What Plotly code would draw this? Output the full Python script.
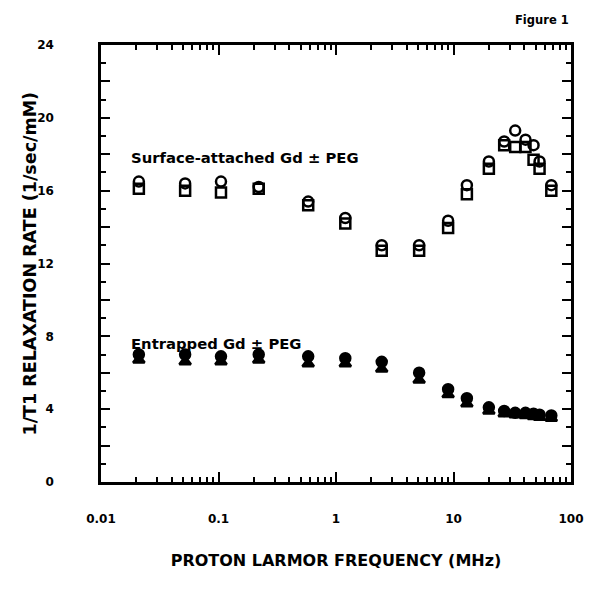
import plotly.graph_objects as go

# Proton Larmor frequency (MHz)
freq = [0.021, 0.052, 0.105, 0.22, 0.58, 1.2, 2.45, 5.1, 9.0, 13.0, 20.0,
        27.0, 33.5, 41.0, 48.0, 54.0, 68.0]

# Surface-attached Gd +/- PEG (open circles / open squares)
surf_circle = [16.5, 16.4, 16.5, 16.2, 15.4, 14.5, 13.0, 13.0, 14.35, 16.3,
               17.6, 18.7, 19.3, 18.8, 18.5, 17.6, 16.3]
surf_square = [16.1, 16.0, 15.9, 16.1, 15.2, 14.2, 12.7, 12.7, 13.95, 15.8,
               17.2, 18.5, 18.4, 18.4, 17.7, 17.2, 16.0]

# Entrapped Gd +/- PEG (filled circles / filled triangles)
ent_circle = [7.0, 7.0, 6.9, 7.0, 6.9, 6.8, 6.6, 6.0, 5.1, 4.6, 4.1, 3.9,
              3.8, 3.8, 3.75, 3.7, 3.65]
ent_triangle = [6.7, 6.6, 6.6, 6.7, 6.5, 6.5, 6.2, 5.6, 4.8, 4.3, 3.9, 3.75,
                3.7, 3.65, 3.6, 3.55, 3.5]

x_tickvals = [0.01, 0.1, 1, 10, 100]
x_ticktext = ["0.01", "0.1", "1", "10", "100"]
x_minorvals = [m * d for d in (0.01, 0.1, 1, 10) for m in range(2, 10)]
y_tickvals = [0, 4, 8, 12, 16, 20, 24]
y_minorvals = list(range(0, 25))

FONT = "DejaVu Sans, Verdana, sans-serif"

fig = go.Figure()

def add(y, symbol, size):
    fig.add_trace(go.Scatter(
        x=freq, y=y, mode="markers",
        marker=dict(symbol=symbol, size=size, color="black",
                    line=dict(color="black", width=2.5)),
        showlegend=False, hoverinfo="skip"))

add(surf_circle, "circle-open", 10)
add(surf_square, "square-open", 10)
add(ent_circle, "circle", 10)
add(ent_triangle, "triangle-up", 10)

# invisible copies on overlay axes so that the tick-only axes are drawn
for xa, ya in (("x2", "y2"), ("x3", "y3")):
    fig.add_trace(go.Scatter(x=freq, y=ent_circle, xaxis=xa, yaxis=ya,
                             mode="markers", marker=dict(opacity=0),
                             showlegend=False, hoverinfo="skip"))

fig.add_annotation(x=-1.765, y=17.8, xref="x", yref="y", xanchor="left",
                   yanchor="middle", showarrow=False,
                   text="<b>Surface-attached Gd ± PEG</b>",
                   font=dict(family=FONT, size=14.8, color="black"))
fig.add_annotation(x=-1.765, y=7.6, xref="x", yref="y", xanchor="left",
                   yanchor="middle", showarrow=False,
                   text="<b>Entrapped Gd ± PEG</b>",
                   font=dict(family=FONT, size=14.8, color="black"))
fig.add_annotation(x=1.0, y=1.0, xref="paper", yref="paper",
                   xanchor="right", yanchor="bottom", yshift=16,
                   showarrow=False, text="<b>Figure 1</b>",
                   font=dict(family=FONT, size=11.5, color="black"))
fig.add_annotation(x=0, y=0.5, xref="paper", yref="paper",
                   xanchor="right", yanchor="middle", xshift=-60,
                   textangle=-90, showarrow=False,
                   text="<b>1/T1 RELAXATION RATE (1/sec/mM)</b>",
                   font=dict(family=FONT, size=17.5, color="black"))

common = dict(showline=True, linewidth=2.5, linecolor="black",
              mirror="ticks", showgrid=False, zeroline=False,
              tickcolor="black")

fig.update_layout(
    width=600, height=596,
    margin=dict(l=93, r=37, t=37, b=122),
    paper_bgcolor="white", plot_bgcolor="white",
    xaxis=dict(
        type="log", range=[-2, 2],
        tickvals=x_tickvals, ticktext=x_ticktext, ticks="",
        ticklabelstandoff=24,
        tickfont=dict(family=FONT, size=12, color="black", weight="bold"),
        title=dict(text="<b>PROTON LARMOR FREQUENCY (MHz)</b>", standoff=30,
                   font=dict(family=FONT, size=16, color="black")),
        **common),
    yaxis=dict(
        range=[0, 24], tickvals=y_tickvals, ticks="",
        ticklabelstandoff=42,
        tickfont=dict(family=FONT, size=12, color="black", weight="bold"),
        **common),
    xaxis2=dict(
        type="log", range=[-2, 2], overlaying="x", side="bottom",
        tickvals=x_minorvals, showticklabels=False, ticks="inside",
        ticklen=5, tickwidth=1.5, **common),
    yaxis2=dict(
        range=[0, 24], overlaying="y", side="left",
        tickvals=y_minorvals, showticklabels=False, ticks="inside",
        ticklen=5, tickwidth=1.5, **common),
    xaxis3=dict(
        type="log", range=[-2, 2], overlaying="x", side="bottom",
        tickvals=x_tickvals, showticklabels=False, ticks="inside",
        ticklen=10, tickwidth=2, **common),
    yaxis3=dict(
        range=[0, 24], overlaying="y", side="left",
        tickvals=[v for v in y_minorvals if v % 2 == 0],
        showticklabels=False, ticks="inside",
        ticklen=9, tickwidth=2, **common),
)

fig.write_html("out.html")
